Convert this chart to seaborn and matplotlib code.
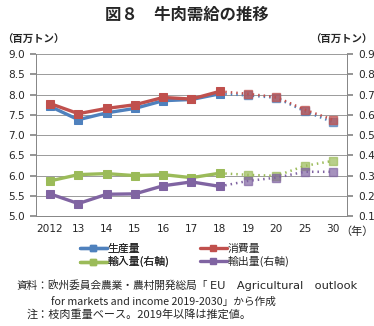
import matplotlib
matplotlib.use("Agg")
import matplotlib.pyplot as plt
import seaborn as sns
import pandas as pd
from matplotlib.lines import Line2D

years = ["2012", "13", "14", "15", "16", "17", "18", "19", "20", "25", "30"]
production = [7.71, 7.38, 7.55, 7.66, 7.85, 7.88, 8.02, 7.98, 7.92, 7.59, 7.32]
consumption = [7.78, 7.53, 7.66, 7.75, 7.93, 7.89, 8.08, 8.02, 7.94, 7.63, 7.38]
imports = [0.274, 0.305, 0.310, 0.300, 0.305, 0.290, 0.312, 0.304, 0.299, 0.348, 0.373]
exports = [0.210, 0.162, 0.208, 0.210, 0.250, 0.269, 0.247, 0.274, 0.290, 0.319, 0.319]
last_actual = 6  # index of 2018

sns.set_theme(style="white")
plt.rcParams['font.family'] = ['Noto Sans CJK JP', 'DejaVu Sans']
LATIN = ['DejaVu Sans', 'Noto Sans CJK JP']

C_PROD = "#4F81BD"
C_CONS = "#C0504D"
C_IMP = "#9BBB59"
C_EXP = "#8064A2"

fig = plt.figure(figsize=(3.74, 3.26), dpi=100)
ax = fig.add_axes([0.096, 0.337, 0.832, 0.497])
ax2 = ax.twinx()

x = list(range(len(years)))
df = pd.DataFrame({"x": x, "prod": production, "cons": consumption,
                   "imp": imports, "exp": exports})
hist = df.iloc[:last_actual + 1]
proj = df.iloc[last_actual:]

def draw(axis, col, color, z):
    sns.lineplot(data=proj, x="x", y=col, ax=axis, color=color, lw=1.8,
                 linestyle=(0, (0.6, 1.6)), marker=None, zorder=z, legend=False)
    axis.plot(proj["x"].iloc[1:], proj[col].iloc[1:], ls="none", marker="s",
              ms=5.5, mfc=color, mec=color, alpha=0.7, zorder=z + 0.5)
    sns.lineplot(data=hist, x="x", y=col, ax=axis, color=color, lw=2.4,
                 marker="s", markersize=5.5, markeredgecolor=color,
                 zorder=z + 1, legend=False)

draw(ax, "prod", C_PROD, 3)
draw(ax, "cons", C_CONS, 5)
draw(ax2, "imp", C_IMP, 3)
draw(ax2, "exp", C_EXP, 5)

ax.set_xlim(-0.5, len(years) - 0.5)
ax.set_ylim(5.0, 9.0)
ax.set_yticks([5.0 + 0.5 * i for i in range(9)])
ax.set_yticklabels([f"{5.0 + 0.5 * i:.1f}" for i in range(9)], family=LATIN)
ax2.set_ylim(0.1, 0.9)
ax2.set_yticks([0.1 * i for i in range(1, 10)])
ax2.set_yticklabels([f"{0.1 * i:.1f}" for i in range(1, 10)], family=LATIN)

ax.set_xticks(x)
ax.set_xticklabels(years, family=LATIN)
ax.set_xticks([i - 0.5 for i in range(len(years) + 1)], minor=True)
ax.tick_params(axis="x", which="major", length=0, pad=6, labelsize=7.6)
ax.tick_params(axis="x", which="minor", length=4, color="#888888", direction="out")
ax.tick_params(axis="y", length=4, color="#888888", direction="out", pad=4, labelsize=7.6)
ax2.tick_params(axis="y", length=4, color="#888888", direction="out", pad=4, labelsize=7.6)
ax.set_xlabel("")
ax.set_ylabel("")
ax2.set_xlabel("")
ax2.set_ylabel("")

ax.grid(axis="y", color="#9a9a9a", lw=0.7)
ax.set_axisbelow(True)
for a in (ax, ax2):
    a.spines["top"].set_visible(False)
    for s in ("left", "right", "bottom"):
        a.spines[s].set_color("#888888")
        a.spines[s].set_linewidth(0.7)

fig.text(0.5, 0.955, "図８　牛肉需給の推移", ha="center", va="center",
         fontsize=11.8, fontweight="bold")
fig.text(0.005, 0.878, "（百万トン）", ha="left", va="center", fontsize=7.5, fontweight="bold")
fig.text(0.995, 0.878, "（百万トン）", ha="right", va="center", fontsize=7.5, fontweight="bold")
fig.text(0.998, 0.288, "（年）", ha="right", va="center", fontsize=8)

def make_legend(items, x_px):
    hs = [Line2D([], [], color=c, lw=2.4, marker="s", ms=4.5) for c, _ in items]
    ls = [t for _, t in items]
    leg = fig.legend(hs, ls, loc="center left", bbox_to_anchor=(x_px / 374, 0.216),
                     ncol=1, frameon=False, fontsize=7.8, handlelength=2.45,
                     handletextpad=0.08, labelspacing=0.22, borderpad=0,
                     borderaxespad=0)
    return leg

fig.add_artist(make_legend([(C_PROD, "生産量"), (C_IMP, "輸入量(右軸)")], 80))
make_legend([(C_CONS, "消費量"), (C_EXP, "輸出量(右軸)")], 200)

fig.text(0.045, 0.123, "資料：欧州委員会農業・農村開発総局「",
         ha="left", va="center", fontsize=7.7)
fig.text(210 / 374, 0.123, "EU\u2003Agricultural\u2003outlook", ha="left", va="center",
         fontsize=8.2, family=LATIN)
fig.text(0.137, 0.074, "for markets and income 2019-2030」から作成",
         ha="left", va="center", fontsize=7.7)
fig.text(0.072, 0.034, "注：枝肉重量ベース。2019年以降は推定値。",
         ha="left", va="center", fontsize=8)

fig.savefig("out.png", dpi=100)
